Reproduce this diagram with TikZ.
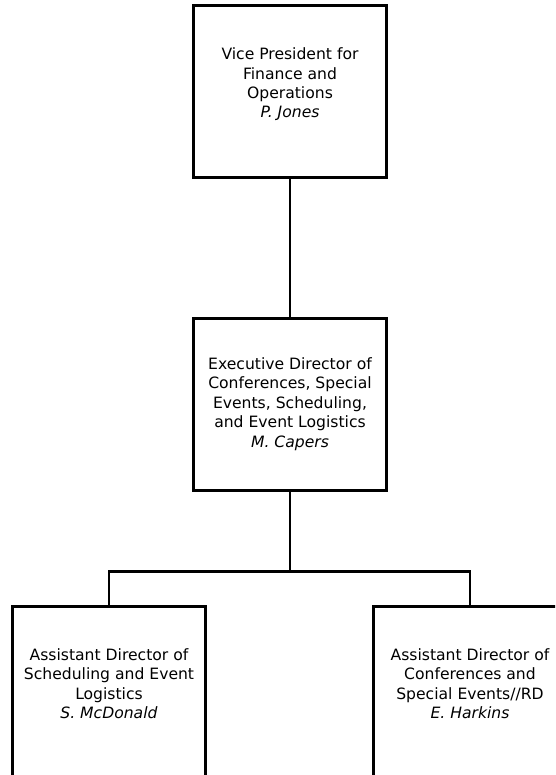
\documentclass[tikz,border=0pt]{standalone}
\usepackage{fontspec}
\setmainfont{DejaVu Sans}
\usetikzlibrary{positioning}
\tikzset{
    % Box styles
    post/.style={rectangle, draw, line width=3pt, minimum width=193pt,
                 minimum height=172pt, inner sep=0pt, align=center,
                 font=\fontsize{15.6}{19.4}\selectfont},
    % Line styles
    link/.style={line width=2.5pt},
}

\begin{document}
\begin{tikzpicture}[x=1pt, y=-1pt]
    \clip (0,0) rectangle (555,775);

    % Offices
    \node[post] (vp) at (290, 91.5)
        {Vice President for\\Finance and\\Operations\\\textit{P. Jones}\\[-8pt]\strut};
    \node[post] (exec) at (290, 404)
        {Executive Director of\\Conferences, Special\\Events, Scheduling,\\and Event Logistics\\\textit{M. Capers}};
    \node[post] (sched) at (109, 692)
        {Assistant Director of\\Scheduling and Event\\Logistics\\\textit{S. McDonald}\\[-8pt]\strut};
    \node[post] (conf) at (470, 692)
        {Assistant Director of\\Conferences and\\Special Events//RD\\\textit{E. Harkins}\\[-8pt]\strut};

    % Lines
    \draw[link] (vp) -- (exec);
    \draw[link] (exec.south) -- ++(0, 80) coordinate (bar);
    \draw[link] (sched.north) |- (bar) -| (conf.north);
\end{tikzpicture}
\end{document}
